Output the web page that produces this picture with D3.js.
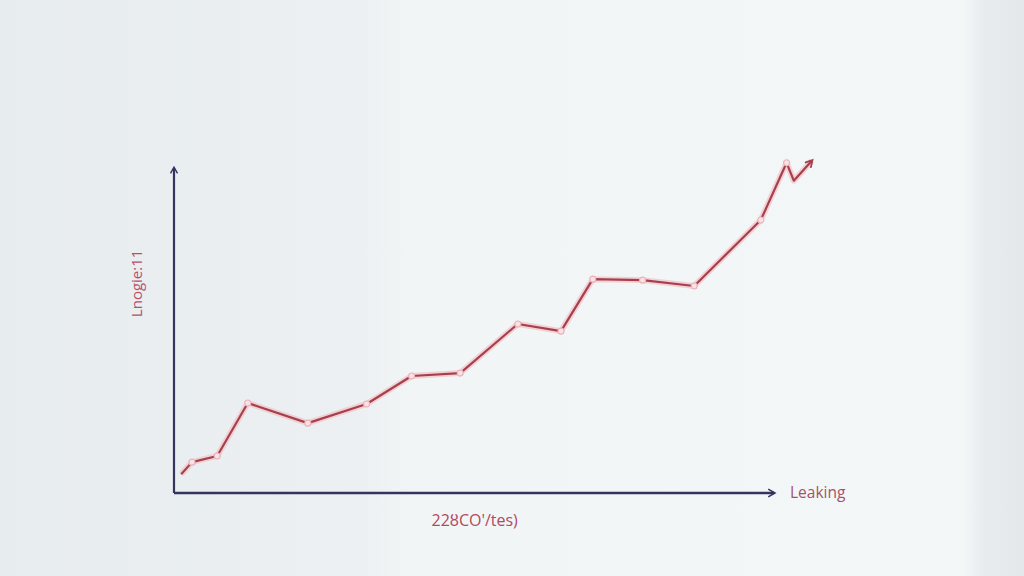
<!DOCTYPE html>
<html>
<head>
<meta charset="utf-8">
<script src="https://cdn.jsdelivr.net/npm/d3@7"></script>
<style>
  html, body { margin: 0; padding: 0; }
  body { width: 1024px; height: 576px; overflow: hidden; }
</style>
</head>
<body>
<svg id="chart" width="1024" height="576"></svg>
<script>
// values (x and y both on a 0-100 scale)
const xValues = [1.2, 3, 7.2, 12.3, 22.3, 32.1, 39.6, 47.7, 57.3, 64.5, 69.8, 78.1, 86.7, 97.8, 102.1, 103.3, 106.3];
const yValues = [5.8, 9.5, 11.4, 27.7, 21.5, 27.4, 36, 36.9, 52, 49.8, 65.8, 65.5, 63.7, 84, 101.6, 96.1, 102.2];
const dotted = [1, 2, 3, 4, 5, 6, 7, 8, 9, 10, 11, 12, 13, 14]; // indexes that get a dot
const xLabel = "22ȣCO'/tes)";
const yLabel = "Lnogie:11";
const endLabel = "Leaking";

const svg = d3.select("#chart");
const margin = { top: 168, right: 250, bottom: 83, left: 174 };
const width = 1024 - margin.left - margin.right;
const height = 576 - margin.top - margin.bottom;

// background
const defs = svg.append("defs");
const bg = defs.append("linearGradient").attr("id", "bg").attr("x1", 0).attr("x2", 1).attr("y1", 0).attr("y2", 0);
bg.append("stop").attr("offset", "0%").attr("stop-color", "#e7ecef");
bg.append("stop").attr("offset", "35%").attr("stop-color", "#ecf0f2");
bg.append("stop").attr("offset", "40%").attr("stop-color", "#f2f5f6");
bg.append("stop").attr("offset", "94%").attr("stop-color", "#f4f7f8");
bg.append("stop").attr("offset", "96%").attr("stop-color", "#e8ecee");
bg.append("stop").attr("offset", "100%").attr("stop-color", "#e4e8ea");
svg.append("rect").attr("width", 1024).attr("height", 576).attr("fill", "url(#bg)");

defs.append("marker")
  .attr("id", "axisArrow").attr("viewBox", "0 0 10 10")
  .attr("refX", 7).attr("refY", 5)
  .attr("markerWidth", 4).attr("markerHeight", 4)
  .attr("orient", "auto-start-reverse")
  .append("path").attr("d", "M1,1 L8,5 L1,9")
  .attr("fill", "none").attr("stroke", "#34345e").attr("stroke-width", 1.6);

defs.append("marker")
  .attr("id", "lineArrow").attr("viewBox", "0 0 10 10")
  .attr("refX", 7).attr("refY", 5)
  .attr("markerWidth", 4.5).attr("markerHeight", 4.5)
  .attr("orient", "auto")
  .append("path").attr("d", "M1,1 L8,5 L1,9")
  .attr("fill", "none").attr("stroke", "#a8404c").attr("stroke-width", 1.8);

const x = d3.scaleLinear().domain([0, 100]).range([0, width]);
const y = d3.scaleLinear().domain([0, 100]).range([height, 0]);

const g = svg.append("g").attr("transform", `translate(${margin.left},${margin.top})`);

// axes: only the lines with arrows, no ticks
g.append("g")
  .attr("class", "x-axis")
  .attr("transform", `translate(0,${height})`)
  .call(d3.axisBottom(x).ticks(0).tickSize(0));
g.append("g")
  .attr("class", "y-axis")
  .call(d3.axisLeft(y).ticks(0).tickSize(0));
g.selectAll(".x-axis path, .y-axis path").remove();

g.append("line")
  .attr("x1", x(0)).attr("y1", y(0)).attr("x2", x(100)).attr("y2", y(0))
  .attr("stroke", "#34345e").attr("stroke-width", 2.4)
  .attr("marker-end", "url(#axisArrow)");
g.append("line")
  .attr("x1", x(0)).attr("y1", y(0)).attr("x2", x(0)).attr("y2", y(100))
  .attr("stroke", "#34345e").attr("stroke-width", 2.2)
  .attr("marker-end", "url(#axisArrow)");

const points = xValues.map((d, i) => [d, yValues[i]]);
const line = d3.line().x(d => x(d[0])).y(d => y(d[1]));

// soft pink glow under the line
g.append("path")
  .datum(points)
  .attr("d", line)
  .attr("fill", "none")
  .attr("stroke", "#f0c8ce")
  .attr("stroke-width", 6)
  .attr("stroke-linejoin", "round")
  .attr("opacity", 0.8);

g.append("path")
  .datum(points)
  .attr("d", line)
  .attr("fill", "none")
  .attr("stroke", "#a8404c")
  .attr("stroke-width", 2.2)
  .attr("stroke-linejoin", "round")
  .attr("marker-end", "url(#lineArrow)");

g.selectAll(".dot")
  .data(dotted.map(i => points[i]))
  .enter()
  .append("circle")
  .attr("class", "dot")
  .attr("cx", d => x(d[0]))
  .attr("cy", d => y(d[1]))
  .attr("r", 3)
  .attr("fill", "#f8e2e5")
  .attr("stroke", "#eab2ba")
  .attr("stroke-width", 1.1);

// labels
g.append("text")
  .attr("x", (x(39.6) + x(57.3)) / 2 + 10)
  .attr("y", height + 33)
  .attr("text-anchor", "middle")
  .attr("font-family", "Liberation Sans Narrow, Open Sans, sans-serif")
  .attr("font-size", 16)
  .attr("fill", "#b04a5e")
  .text(xLabel);

g.append("text")
  .attr("transform", `translate(${-37},${y(64.5)}) rotate(-90)`)
  .attr("text-anchor", "middle")
  .attr("dy", "0.35em")
  .attr("font-family", "Open Sans, sans-serif")
  .attr("font-size", 15)
  .attr("fill", "#b85068")
  .text(yLabel);

g.append("text")
  .attr("x", x(100) + 16)
  .attr("y", height)
  .attr("dy", "0.35em")
  .attr("font-family", "Open Sans, sans-serif")
  .attr("font-size", 15.5)
  .attr("fill", "#a45266")
  .text(endLabel);
</script>
</body>
</html>
